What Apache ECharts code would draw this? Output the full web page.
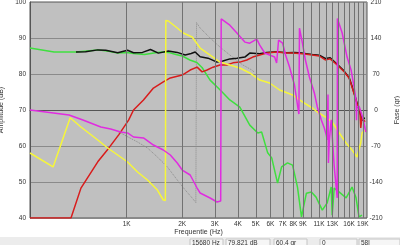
<!doctype html>
<html lang="nl">
  <head>
    <meta charset="UTF-8" />
    <title>Amplitude / Fase</title>
    <script src="https://cdn.jsdelivr.net/npm/echarts@6/dist/echarts.min.js"></script>
    <style>
      html, body { margin: 0; padding: 0; background: #fff; }
      #chart { width: 400px; height: 245px; }
    </style>
  </head>
  <body>
    <div id="chart"></div>
    <script>
      // vertical grid lines (Hz) and the ones that get a label
      const gridHz = [1000, 2000, 3000, 4000, 5000, 6000, 7000, 8000, 9000, 10000,
        11000, 12000, 13000, 14000, 15000, 16000, 17000, 18000, 19000];
      const labeledHz = [1000, 2000, 3000, 4000, 5000, 6000, 7000, 8000, 9000, 11000, 13000, 16000, 19000];

      // amplitude curves [Hz, dB]
      const greenAmp = [[300, 87.2], [405, 86.1], [532, 86.1], [698, 86.7], [800, 86.3], [895, 85.8],
        [1000, 86.0], [1118, 85.6], [1250, 85.4], [1432, 85.9], [1550, 86.1], [1682, 86.0],
        [1850, 85.4], [2000, 85.0], [2200, 83.9], [2400, 83.2], [2560, 81.8], [2830, 78.3],
        [3200, 75.6], [3620, 72.8], [4100, 70.8], [4640, 65.8], [5130, 63.6], [5380, 63.9],
        [5800, 58.1], [6100, 56.7], [6560, 49.7], [6900, 54.2], [7430, 55.3], [7910, 54.7],
        [8410, 48.6], [8840, 40.3], [9400, 46.9], [10000, 47.2], [10600, 45.8], [11460, 42.2],
        [12180, 44.2], [12800, 48.6], [12960, 40.8], [13290, 48.3], [14160, 47.2], [15420, 45.6],
        [16600, 48.6], [17450, 45.6], [18100, 40.3], [18800, 40.8]];
      const blackAmp = [[532, 86.1], [600, 86.2], [698, 86.7], [771, 86.6], [895, 85.9], [1012, 86.6],
        [1090, 85.9], [1219, 86.0], [1346, 86.8], [1486, 85.8], [1682, 86.4], [1880, 86.0],
        [2076, 85.3], [2236, 85.7], [2350, 86.1], [2500, 84.8], [2759, 84.4], [3085, 83.3],
        [3321, 83.6], [3620, 84.2], [3953, 84.4], [4363, 84.7], [4640, 85.8], [5254, 85.6],
        [5730, 86.0], [6484, 86.2], [7340, 85.9], [8100, 86.0], [8946, 85.8], [10120, 85.4],
        [11040, 85.2], [11890, 84.3], [12640, 84.5], [13800, 82.7], [15050, 80.8], [16000, 79.0],
        [16600, 76.6], [17240, 73.8], [17880, 71.0], [18300, 69.5], [18800, 67.0], [19000, 67.6],
        [19500, 67.8]];
      const redAmp = [[300, 40], [500, 40], [566, 48.3], [698, 55.6], [800, 59.4], [906, 63.1],
        [1025, 67.2], [1090, 70.0], [1234, 72.8], [1397, 76.1], [1580, 77.8], [1724, 78.9],
        [2000, 79.7], [2208, 81.1], [2407, 81.9], [2562, 80.6], [2725, 81.1], [2936, 81.9],
        [3200, 82.5], [3490, 82.5], [3761, 83.1], [4100, 83.3], [4472, 83.9], [4817, 84.7],
        [5254, 85.3], [5730, 85.8], [6484, 86.1], [7340, 85.8], [7910, 85.8], [8946, 85.6],
        [10120, 85.3], [11040, 85.0], [11890, 83.9], [12640, 84.2], [13800, 82.5], [15050, 80.6],
        [16000, 78.9], [16600, 76.4], [17240, 73.6], [17880, 70.8], [18300, 70.0], [18500, 65.0],
        [18800, 68.1], [19250, 67.8], [19500, 66.7]];

      // phase curves [Hz, degrees]
      const yellowPhase = [[300, -83.6], [400, -110.8], [495, -15], [566, -33.1], [698, -58.3],
        [790, -73.9], [895, -87.5], [1012, -101.1], [1146, -120.6], [1297, -136.1], [1468, -155.6],
        [1580, -175], [1621, -176], [1630, 174], [1682, 173], [1880, 159.4], [2024, 149.7],
        [2263, 142], [2500, 120.5], [2830, 106.9], [3200, 93.3], [3620, 87.5], [4100, 81.7],
        [4640, 72], [5254, 58.3], [5945, 52.5], [6730, 38.9], [7430, 33.1], [7910, 29.2],
        [8946, 15.6], [10120, 3.9], [10770, -3.9], [12180, -15.6], [12960, -23.3], [14160, -44.7],
        [15420, -64.2], [16600, -77.8], [17660, -91.4], [18500, -64.2], [18800, -44.7], [19500, -38.9]];
      const magentaPhase = [[300, 0], [488, -9.7], [580, -19.4], [725, -33.1], [820, -36.9],
        [928, -42.8], [1012, -44.7], [1090, -52.5], [1234, -54.4], [1397, -68.1], [1580, -77.8],
        [1724, -87.5], [1880, -103], [2000, -116.7], [2208, -126.4], [2407, -151.7], [2500, -161.4],
        [2830, -171.1], [3085, -178.9], [3230, -177], [3250, 177], [3620, 165], [3953, 149.7],
        [4363, 132], [4640, 130], [5060, 138], [5254, 126], [5589, 110.8], [5945, 106.9],
        [6325, 103], [6484, 91.4], [6645, 136], [6986, 130], [7248, 106.9], [7616, 83.6],
        [8100, 48.6], [8410, 9.7], [8560, -8], [8620, 159], [8946, 130], [9284, 97.2],
        [9755, 64.2], [10380, 33.1], [10770, 5.8], [11320, -19.4], [11750, -35], [12040, -48.6],
        [12180, -58.3], [12300, 30], [12360, -103], [12500, -60], [12800, -19], [13290, -110],
        [13800, -171], [13830, 178], [14680, 149.7], [15600, 103], [16400, 77.8], [17030, 44.7],
        [17450, 19.4], [17550, -20], [17620, 5.8], [18100, 7.8], [18500, 5.8], [19000, -15.6],
        [19700, -42.8]];
      const grayPhase = [[880, -40], [1012, -52], [1146, -62.2], [1297, -73.9], [1468, -91.4],
        [1662, -110.8], [1880, -136.1], [2076, -155.6], [2263, -171], [2370, -180], [2390, 170],
        [2500, 159.4], [2830, 140], [3200, 122.5], [3620, 106.9], [4256, 87.5], [4758, 77.8], [4900, 74]];

      const chart = echarts.init(document.getElementById('chart'), null, { renderer: 'canvas' });
      const font = 'Liberation Sans, Arial, sans-serif';

      function curve(data, color, axis, extra) {
        return Object.assign({
          type: 'line',
          data: data,
          yAxisIndex: axis,
          showSymbol: false,
          symbol: 'none',
          lineStyle: { color: color, width: 1.5 },
          itemStyle: { color: color },
          animation: false,
          z: 3,
        }, extra || {});
      }

      const option = {
        animation: false,
        textStyle: { fontFamily: font },
        grid: {
          left: 30, right: 33, top: 2, bottom: 27,
          containLabel: false,
          outerBoundsMode: 'none',
          show: true,
          backgroundColor: '#c0c0c0',
          borderColor: '#555',
          borderWidth: 1,
        },
        xAxis: {
          type: 'log',
          logBase: 10,
          min: 300,
          max: 20000,
          axisLine: { show: true, lineStyle: { color: '#555' } },
          axisTick: { show: false },
          axisLabel: { show: false },
          splitLine: { show: false },
          name: 'Frequentie (Hz)',
          nameLocation: 'middle',
          nameGap: 11,
          nameTextStyle: { fontSize: 7, color: '#333', fontFamily: font },
        },
        yAxis: [
          {
            type: 'value',
            min: 40, max: 100, interval: 10,
            axisLine: { show: true, lineStyle: { color: '#555' } },
            axisTick: { show: false },
            axisLabel: { fontSize: 6.5, color: '#333', margin: 4, fontFamily: font },
            splitLine: { show: true, lineStyle: { color: '#8a8a8a', width: 1 } },
            name: 'Amplitude (dB)',
            nameLocation: 'middle',
            nameGap: 18,
            nameTextStyle: { fontSize: 7, color: '#333', fontFamily: font },
          },
          {
            type: 'value',
            position: 'right',
            min: -210, max: 210, interval: 70,
            axisLine: { show: false },
            axisTick: { show: false },
            axisLabel: { fontSize: 6.5, color: '#333', margin: 9, align: 'center', fontFamily: font },
            splitLine: { show: false },
            name: 'Fase (gr)',
            nameLocation: 'middle',
            nameGap: 18,
            nameTextStyle: { fontSize: 7, color: '#333', fontFamily: font },
          },
        ],
        series: [
          {
            type: 'line',
            data: [],
            z: 1,
            silent: true,
            markLine: {
              silent: true,
              symbol: ['none', 'none'],
              animation: false,
              lineStyle: { color: '#727272', width: 1, type: 'solid' },
              label: {
                show: true,
                position: 'start',
                distance: 3,
                fontSize: 6.5,
                color: '#333',
                fontFamily: font,
                formatter: function (p) {
                  return labeledHz.indexOf(p.value) >= 0 ? p.value / 1000 + 'K' : '';
                },
              },
              data: gridHz.map(function (f) { return { xAxis: f }; }),
            },
          },
          curve(grayPhase, '#8c8c8c', 1, { lineStyle: { color: '#8c8c8c', width: 1, type: 'dotted' } }),
          curve(greenAmp, '#3fdf3f', 0),
          curve(blackAmp, '#111111', 0),
          curve(redAmp, '#d81c1c', 0),
          curve(yellowPhase, '#f6f63a', 1),
          curve(magentaPhase, '#e02ce0', 1),
        ],
        graphic: [
          { type: 'rect', shape: { x: 0, y: 237, width: 400, height: 8 }, style: { fill: '#ececec' }, silent: true },
          { type: 'rect', shape: { x: 190, y: 239, width: 33, height: 8 }, style: { fill: '#f6f6f6', stroke: '#c4c4c4' } },
          { type: 'text', x: 192, y: 240, style: { text: '15680 Hz', fontSize: 6.5, fill: '#333', fontFamily: font } },
          { type: 'rect', shape: { x: 226, y: 239, width: 44, height: 8 }, style: { fill: '#f6f6f6', stroke: '#c4c4c4' } },
          { type: 'text', x: 228, y: 240, style: { text: '79.821 dB', fontSize: 6.5, fill: '#333', fontFamily: font } },
          { type: 'rect', shape: { x: 274, y: 239, width: 33, height: 8 }, style: { fill: '#f6f6f6', stroke: '#c4c4c4' } },
          { type: 'text', x: 276, y: 240, style: { text: '60.4 gr', fontSize: 6.5, fill: '#333', fontFamily: font } },
          { type: 'rect', shape: { x: 320, y: 239, width: 37, height: 8 }, style: { fill: '#f6f6f6', stroke: '#c4c4c4' } },
          { type: 'text', x: 322, y: 240, style: { text: '0', fontSize: 6.5, fill: '#333', fontFamily: font } },
          { type: 'rect', shape: { x: 359, y: 239, width: 41, height: 8 }, style: { fill: '#f6f6f6', stroke: '#c4c4c4' } },
          { type: 'text', x: 361, y: 240, style: { text: '58l', fontSize: 6.5, fill: '#333', fontFamily: font } },
        ],
      };

      chart.setOption(option);
    </script>
  </body>
</html>
